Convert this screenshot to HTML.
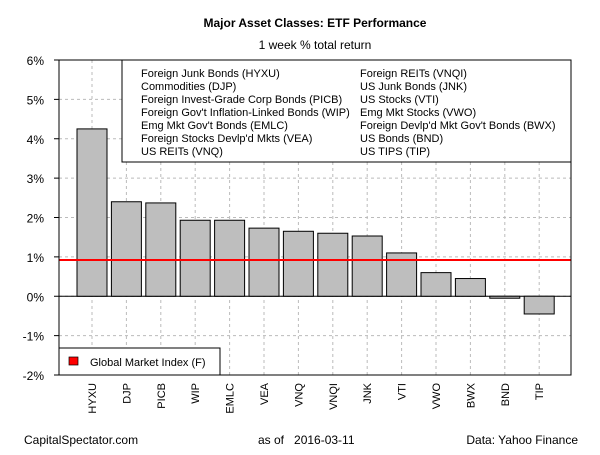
<!DOCTYPE html>
<html><head><meta charset="utf-8"><style>
body{margin:0;background:#fff;font-family:"Liberation Sans",Arial,sans-serif}
svg text{font-family:"Liberation Sans",Arial,sans-serif}
</style></head><body>
<svg id="c" width="600" height="450" xmlns="http://www.w3.org/2000/svg"></svg>
<script>
const categories=["HYXU","DJP","PICB","WIP","EMLC","VEA","VNQ","VNQI","JNK","VTI","VWO","BWX","BND","TIP"];
const values=[4.25,2.4,2.37,1.93,1.93,1.73,1.65,1.6,1.53,1.1,0.6,0.45,-0.05,-0.45];
const benchmark=[0.92];
const yTicks=[-2,-1,0,1,2,3,4,5,6];
const yTickLabels=["-2%","-1%","0%","1%","2%","3%","4%","5%","6%"];
const legendLeft=["Foreign Junk Bonds (HYXU)","Commodities (DJP)","Foreign Invest-Grade Corp Bonds (PICB)","Foreign Gov't Inflation-Linked Bonds (WIP)","Emg Mkt Gov't Bonds (EMLC)","Foreign Stocks Devlp'd Mkts (VEA)","US REITs (VNQ)"];
const legendRight=["Foreign REITs (VNQI)","US Junk Bonds (JNK)","US Stocks (VTI)","Emg Mkt Stocks (VWO)","Foreign Devlp'd Mkt Gov't Bonds (BWX)","US Bonds (BND)","US TIPS (TIP)"];
const svg=document.getElementById('c');const NS="http://www.w3.org/2000/svg";
const L=59,R=571,T=60,B=375;
function y(v){return T+(6-v)*(B-T)/8;}
function x(i){return 92+i*34.4;}
function mk(t,a,p){const e=document.createElementNS(NS,t);for(const k in a)e.setAttribute(k,a[k]);(p||svg).appendChild(e);return e;}
function tx(s,a){const e=mk('text',a);e.textContent=s;return e;}
let e;
e=tx("Major Asset Classes: ETF Performance",{x:315,y:27,'text-anchor':'middle','font-size':12,'font-weight':'bold'});

e=tx("1 week % total return",{x:315,y:49,'text-anchor':'middle','font-size':12});

yTicks.forEach((v,i)=>{
 e=mk('line',{x1:L,x2:R,y1:y(v),y2:y(v),stroke:'#bbb','stroke-dasharray':'3,3'});
 
 e=mk('line',{x1:L-5,x2:L,y1:y(v),y2:y(v),stroke:'#000'});
 
 e=tx(yTickLabels[i],{x:44,y:y(v)+5,'text-anchor':'end','font-size':12});
 
});
categories.forEach((c,i)=>{
 e=mk('line',{x1:x(i),x2:x(i),y1:T,y2:B,stroke:'#bbb','stroke-dasharray':'3,3'});
 
});
mk('line',{x1:L,x2:R,y1:y(0),y2:y(0),stroke:'#000'});
categories.forEach((c,i)=>{
 const v=values[i];
 e=mk('rect',{x:x(i)-15,y:Math.min(y(v),y(0)),width:30,height:Math.max(Math.abs(y(v)-y(0)),1),fill:'#bebebe',stroke:'#000','stroke-width':1});
 
 e=tx(c,{x:0,y:0,'text-anchor':'end','font-size':11,transform:`translate(${x(i)+4},383) rotate(-90)`});
 
});
e=mk('line',{x1:L,x2:R,y1:y(benchmark[0]),y2:y(benchmark[0]),stroke:'#f00','stroke-width':2});

e=mk('rect',{x:L,y:T,width:R-L,height:B-T,fill:'none',stroke:'#000'});

e=mk('rect',{x:122,y:T,width:R-122,height:102,fill:'#fff',stroke:'#000'});

legendLeft.forEach((s,i)=>{e=tx(s,{x:141,y:77+i*13,'font-size':11});});
legendRight.forEach((s,i)=>{e=tx(s,{x:360,y:77+i*13,'font-size':11});});
e=mk('rect',{x:L,y:348,width:161,height:27,fill:'#fff',stroke:'#000'});

mk('rect',{x:69,y:357,width:9,height:8,fill:'#f00',stroke:'#000','stroke-width':0.7});
e=tx("Global Market Index (F)",{x:90,y:366,'font-size':11});

e=tx("CapitalSpectator.com",{x:24,y:444,'font-size':12});
e=tx("as of   2016-03-11",{x:258,y:444,'font-size':12,style:'white-space:pre'});
e=tx("Data: Yahoo Finance",{x:578,y:444,'text-anchor':'end','font-size':12});
</script>
</body></html>
